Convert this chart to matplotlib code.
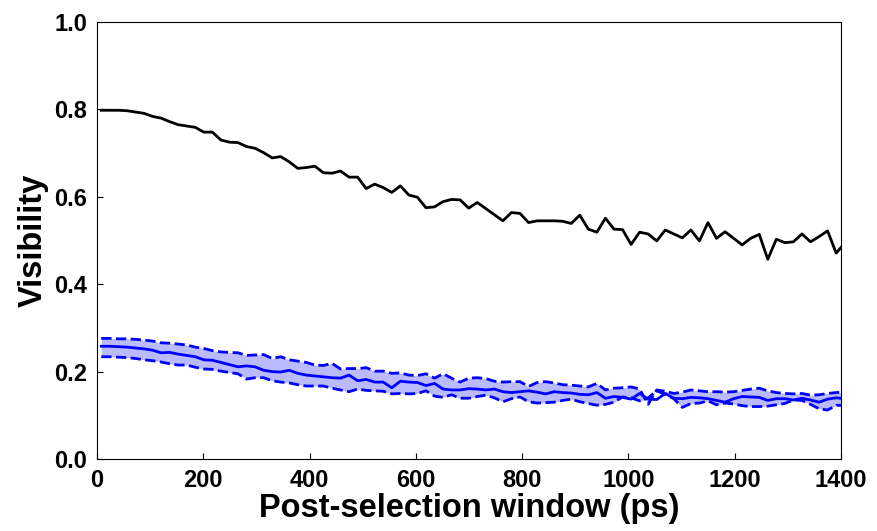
import numpy as np
import matplotlib
matplotlib.use("Agg")
import matplotlib.pyplot as plt

# post-selection window (ps), one point every ~16 ps
window = 8 + 16.08 * np.arange(88)

vis_black = [0.798, 0.798, 0.798, 0.797, 0.794, 0.791, 0.784, 0.780, 0.772, 0.765,
             0.762, 0.759, 0.748, 0.748, 0.730, 0.725, 0.724, 0.715, 0.711, 0.701,
             0.689, 0.692, 0.680, 0.665, 0.667, 0.670, 0.655, 0.654, 0.659, 0.645,
             0.645, 0.619, 0.629, 0.621, 0.610, 0.625, 0.604, 0.599, 0.575, 0.577,
             0.589, 0.594, 0.593, 0.574, 0.587, 0.573, 0.559, 0.545, 0.564, 0.562,
             0.541, 0.545, 0.545, 0.545, 0.544, 0.539, 0.558, 0.526, 0.519, 0.551,
             0.526, 0.525, 0.491, 0.519, 0.515, 0.499, 0.524, 0.515, 0.506, 0.524,
             0.499, 0.541, 0.505, 0.520, 0.505, 0.490, 0.505, 0.514, 0.457, 0.503,
             0.495, 0.497, 0.515, 0.497, 0.509, 0.522, 0.471, 0.494]

vis_mean = [0.258, 0.258, 0.257, 0.256, 0.254, 0.252, 0.249, 0.243, 0.244, 0.240,
            0.237, 0.234, 0.227, 0.226, 0.221, 0.216, 0.211, 0.213, 0.211, 0.203,
            0.200, 0.199, 0.203, 0.196, 0.192, 0.190, 0.188, 0.186, 0.185, 0.192,
            0.179, 0.182, 0.176, 0.176, 0.163, 0.178, 0.176, 0.175, 0.168, 0.173,
            0.160, 0.158, 0.158, 0.161, 0.160, 0.158, 0.160, 0.154, 0.152, 0.154,
            0.156, 0.153, 0.149, 0.154, 0.152, 0.151, 0.148, 0.147, 0.152, 0.139,
            0.143, 0.141, 0.137, 0.150, 0.137, 0.136, 0.150, 0.139, 0.138, 0.141,
            0.140, 0.138, 0.134, 0.130, 0.138, 0.143, 0.142, 0.141, 0.134, 0.138,
            0.138, 0.135, 0.139, 0.135, 0.130, 0.137, 0.140, 0.138]

vis_upper = [0.276, 0.276, 0.275, 0.275, 0.274, 0.272, 0.270, 0.266, 0.265, 0.263,
             0.261, 0.256, 0.253, 0.248, 0.245, 0.244, 0.243, 0.237, 0.238, 0.239,
             0.230, 0.234, 0.227, 0.224, 0.221, 0.215, 0.214, 0.219, 0.206, 0.207,
             0.207, 0.209, 0.201, 0.201, 0.196, 0.197, 0.192, 0.191, 0.195, 0.185,
             0.195, 0.185, 0.176, 0.185, 0.186, 0.184, 0.178, 0.176, 0.177, 0.177,
             0.166, 0.175, 0.177, 0.174, 0.170, 0.169, 0.167, 0.165, 0.173, 0.158,
             0.162, 0.163, 0.165, 0.160, 0.125, 0.158, 0.155, 0.150, 0.153, 0.158,
             0.156, 0.154, 0.154, 0.153, 0.154, 0.157, 0.160, 0.162, 0.156, 0.152,
             0.150, 0.149, 0.150, 0.146, 0.147, 0.150, 0.152, 0.153]

vis_lower = [0.234, 0.234, 0.233, 0.232, 0.230, 0.227, 0.225, 0.222, 0.218, 0.215,
             0.215, 0.210, 0.206, 0.205, 0.201, 0.198, 0.195, 0.183, 0.186, 0.186,
             0.179, 0.176, 0.174, 0.170, 0.167, 0.167, 0.167, 0.162, 0.158, 0.154,
             0.160, 0.157, 0.156, 0.155, 0.149, 0.150, 0.149, 0.150, 0.156, 0.144,
             0.141, 0.147, 0.139, 0.139, 0.143, 0.146, 0.140, 0.131, 0.138, 0.142,
             0.131, 0.128, 0.129, 0.130, 0.134, 0.137, 0.131, 0.127, 0.123, 0.125,
             0.130, 0.142, 0.140, 0.133, 0.140, 0.156, 0.148, 0.138, 0.118, 0.127,
             0.128, 0.133, 0.124, 0.128, 0.126, 0.122, 0.120, 0.120, 0.121, 0.124,
             0.127, 0.135, 0.134, 0.125, 0.115, 0.112, 0.123, 0.122]

plt.rcParams['font.family'] = ['Liberation Sans', 'DejaVu Sans']
plt.rcParams['font.weight'] = 'bold'

fig = plt.figure(figsize=(8.78, 5.31), dpi=100)
ax = fig.add_axes([97 / 878, 1 - 459 / 531, 744 / 878, 437 / 531])

ax.plot(window, vis_black, color='black', lw=2)
ax.fill_between(window, vis_lower, vis_upper, color='blue', alpha=0.27, lw=0)
ax.plot(window, vis_upper, color='blue', ls='--', lw=2)
ax.plot(window, vis_lower, color='blue', ls='--', lw=2)
ax.plot(window, vis_mean, color='blue', lw=2)

ax.set_xlim(0, 1400)
ax.set_ylim(0, 1.0)
ax.set_xticks(np.arange(0, 1401, 200))
ax.set_yticks(np.arange(0, 1.01, 0.2))
ax.set_yticklabels(['%.1f' % v for v in np.arange(0, 1.01, 0.2)])
ax.tick_params(direction='in', labelsize=17, length=4, pad=7)
for lab in ax.get_xticklabels() + ax.get_yticklabels():
    lab.set_fontweight('bold')

ax.set_xlabel('Post-selection window (ps)', fontsize=23.5, fontweight='bold', labelpad=1)
ax.set_ylabel('Visibility', fontsize=23.5, fontweight='bold', labelpad=4)

fig.savefig('out.png', dpi=100)
